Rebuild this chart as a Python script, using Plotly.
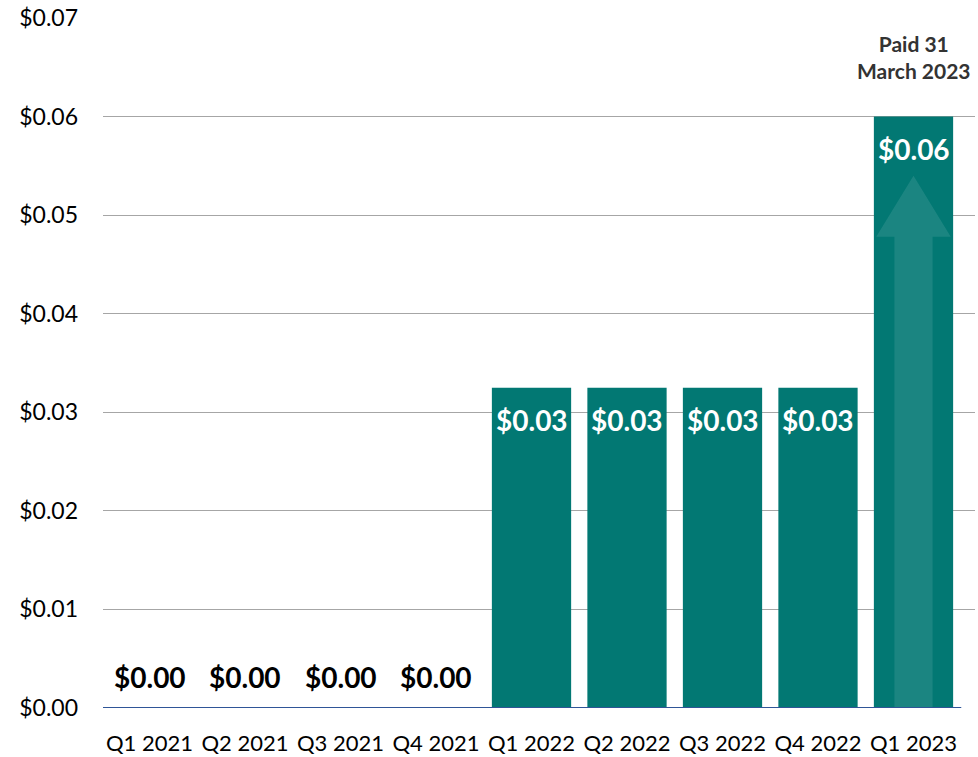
import plotly.graph_objects as go

# Quarterly dividend per share
quarters = ["Q1 2021", "Q2 2021", "Q3 2021", "Q4 2021",
            "Q1 2022", "Q2 2022", "Q3 2022", "Q4 2022", "Q1 2023"]
dividends = [0.0, 0.0, 0.0, 0.0, 0.0325, 0.0325, 0.0325, 0.0325, 0.06]
value_labels = ["$0.00", "$0.00", "$0.00", "$0.00",
                "$0.03", "$0.03", "$0.03", "$0.03", "$0.06"]
y_ticks = [0.0, 0.01, 0.02, 0.03, 0.04, 0.05, 0.06, 0.07]
y_tick_labels = ["$0.00", "$0.01", "$0.02", "$0.03", "$0.04", "$0.05", "$0.06", "$0.07"]
note_text = "<b>Paid 31<br>March 2023</b>"

TEAL = "#027873"
FONT = "Lato, 'Open Sans', sans-serif"
BAR_WIDTH = 0.83

xs = list(range(len(quarters)))

fig = go.Figure()
fig.add_trace(go.Bar(
    x=xs, y=dividends, width=BAR_WIDTH,
    marker=dict(color=TEAL, line=dict(width=0)),
    hoverinfo="skip",
))

annotations = []
for i, (v, lab) in enumerate(zip(dividends, value_labels)):
    if v > 0:
        annotations.append(dict(
            x=i, y=v, xref="x", yref="y", text=f"<b>{lab}</b>",
            showarrow=False, yanchor="middle", yshift=-32,
            font=dict(family=FONT, size=28, color="white"),
        ))
    else:
        annotations.append(dict(
            x=i, y=v, xref="x", yref="y", text=f"<b>{lab}</b>",
            showarrow=False, yanchor="bottom", yshift=12,
            font=dict(family=FONT, size=28, color="black"),
        ))

last = len(quarters) - 1
annotations.append(dict(
    x=last, y=0.07, xref="x", yref="y", text=note_text,
    showarrow=False, yanchor="top", yshift=-11,
    font=dict(family=FONT, size=21, color="#333333"),
))

# Upward arrow drawn inside the latest bar
top = dividends[last]
tip = 0.90 * top
head = 0.797 * top
hw, sw = 0.39, 0.20
arrow_path = (
    f"M {last - sw} 0 L {last - sw} {head} L {last - hw} {head} "
    f"L {last} {tip} L {last + hw} {head} L {last + sw} {head} L {last + sw} 0 Z"
)
shapes = [
    dict(type="path", path=arrow_path, xref="x", yref="y",
         fillcolor="rgba(255,255,255,0.10)", line=dict(width=0), layer="above"),
    dict(type="line", xref="x", yref="y", x0=-0.487, x1=last + 0.5, y0=0, y1=0,
         line=dict(color="#2F5597", width=2), layer="above"),
]

fig.update_layout(
    width=978, height=757,
    margin=dict(l=103, r=3, t=18, b=49),
    paper_bgcolor="white", plot_bgcolor="white",
    showlegend=False,
    annotations=annotations,
    shapes=shapes,
    xaxis=dict(
        range=[-0.487, 8.644], tickvals=xs, ticktext=quarters,
        showgrid=False, zeroline=False, showline=False, ticks="",
        tickfont=dict(family=FONT, size=22, color="black"),
        ticklabelstandoff=20, automargin=False,
    ),
    yaxis=dict(
        range=[0, 0.07], tickvals=y_ticks, ticktext=y_tick_labels,
        showgrid=True, gridcolor="#A6A6A6", gridwidth=1,
        zeroline=False, showline=False, ticks="",
        tickfont=dict(family=FONT, size=23, color="black"),
        ticklabelstandoff=24, automargin=False,
    ),
)

fig.write_html("out.html")
